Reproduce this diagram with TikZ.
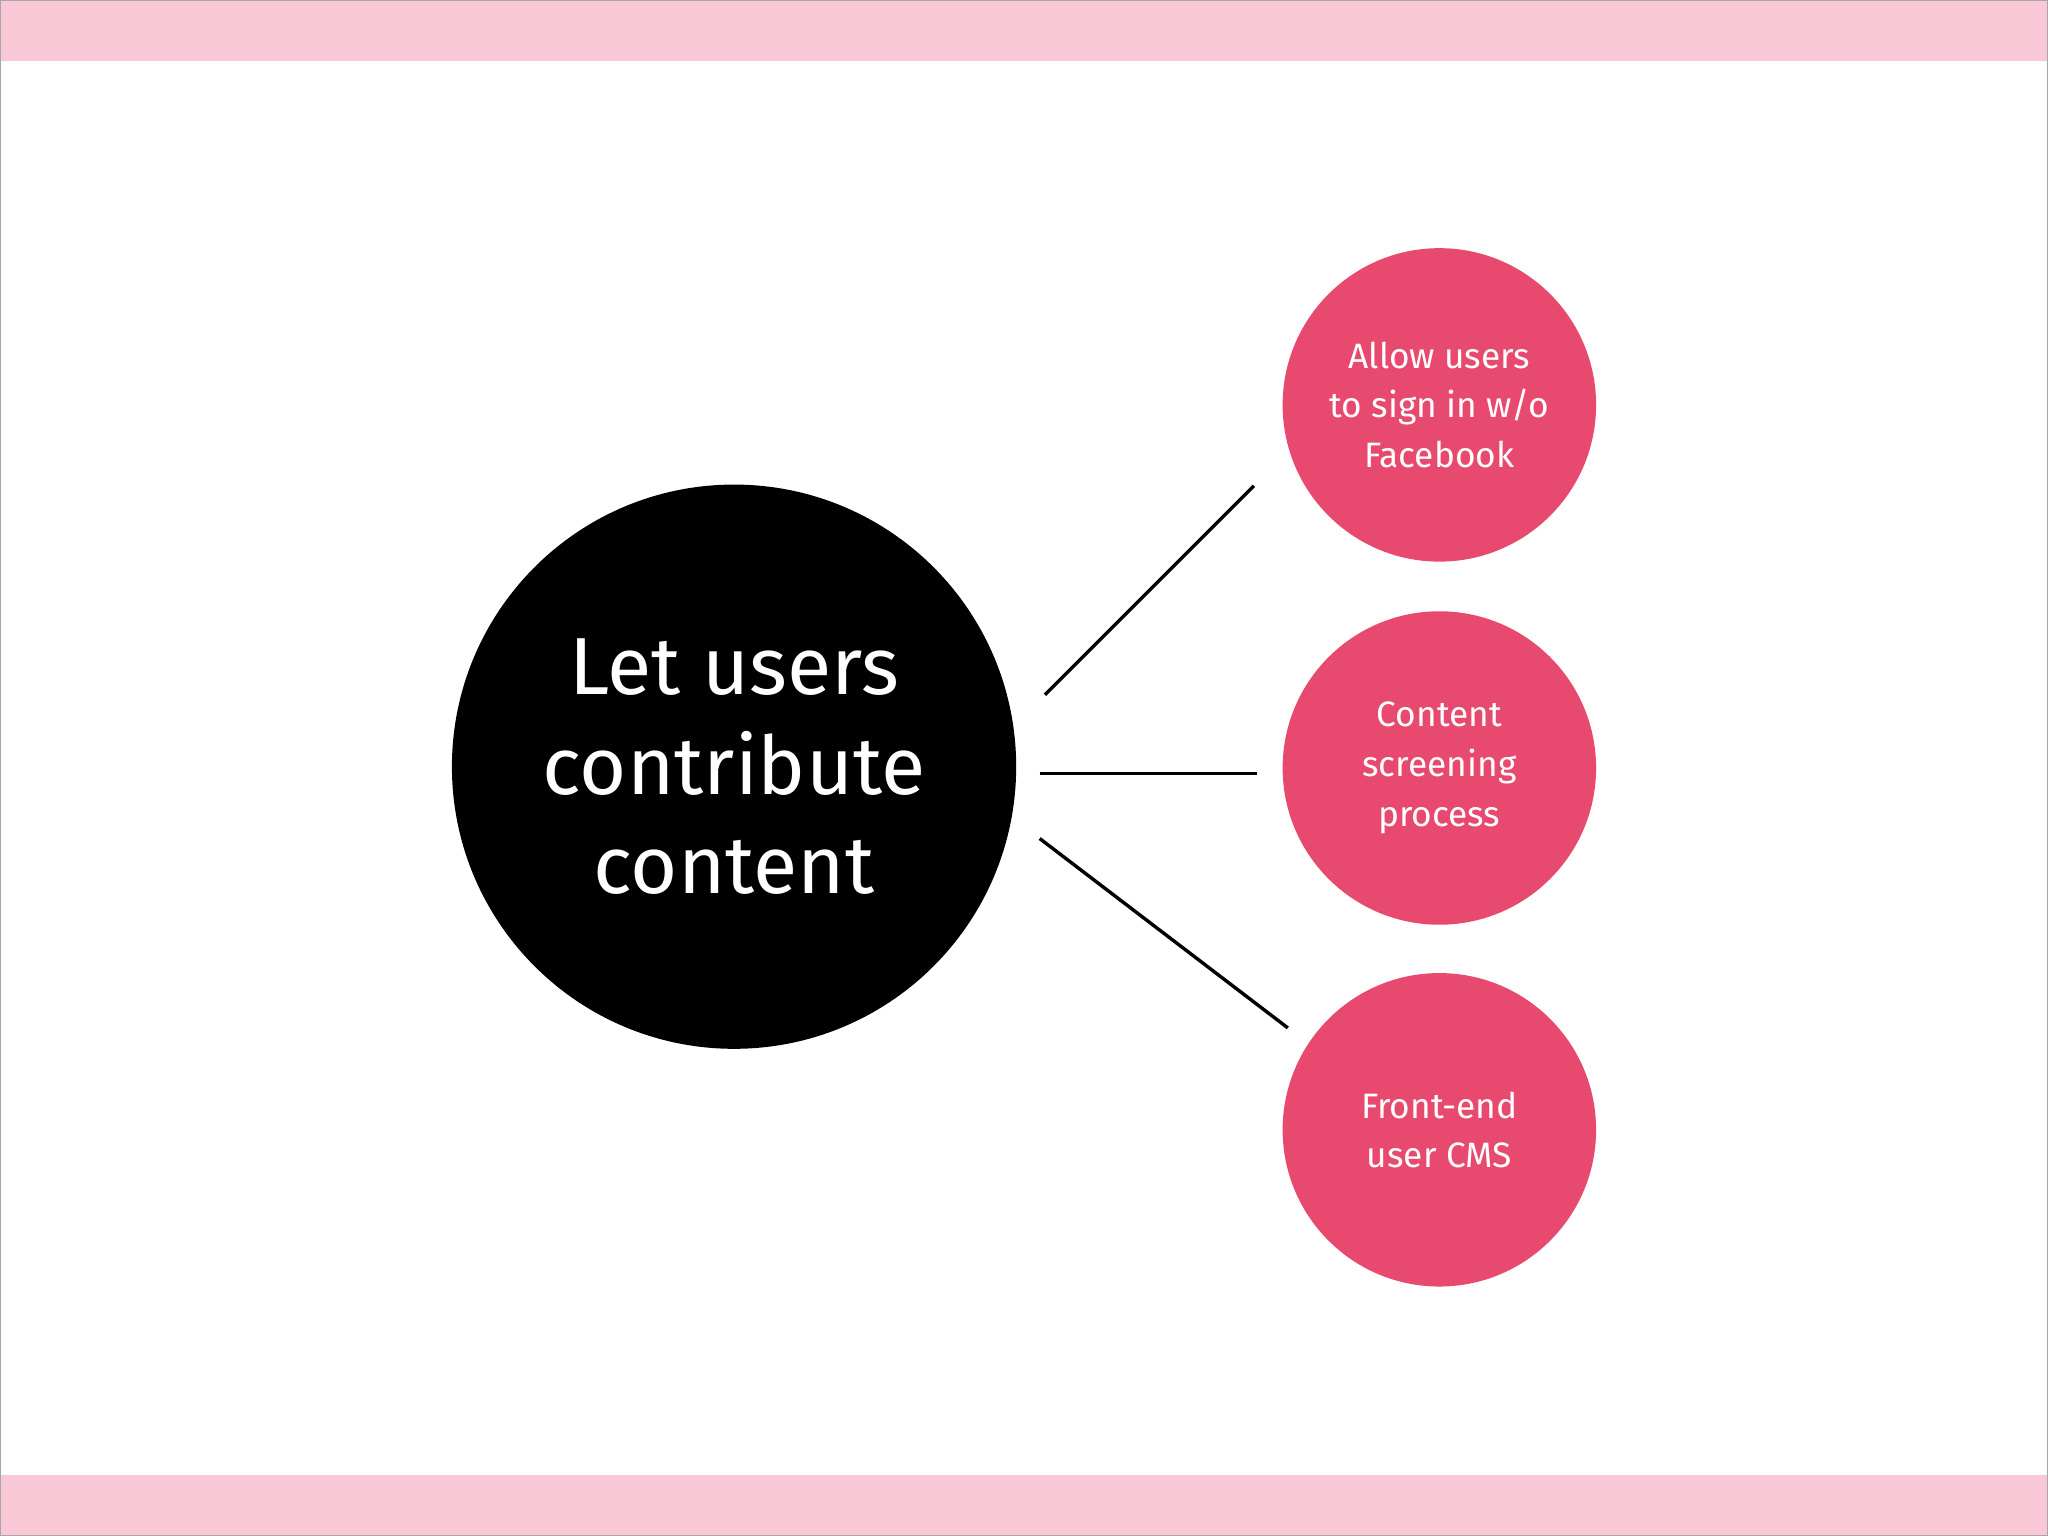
\documentclass[tikz,border=0pt]{standalone}
\usepackage{fontspec}
\setmainfont{Fira Sans}
\definecolor{band}{HTML}{F8C8D6}
\definecolor{rose}{HTML}{E8496E}
\begin{document}
\begin{tikzpicture}[x=0.5pt,y=-0.5pt,
  big/.style={circle,fill=black,minimum size=432*0.5pt,inner sep=0,text=white,align=center,font=\fontsize{31}{38}\selectfont},
  small/.style={circle,fill=rose,minimum size=240*0.5pt,inner sep=0,text=white,align=center,font=\fontsize{13.5}{19}\selectfont},
  conn/.style={line width=1.3pt}]
\useasboundingbox (0,0) rectangle (1568,1176);
\fill[white] (0,0) rectangle (1568,1176);
\fill[band] (0,0) rectangle (1568,47);
\fill[band] (0,1129) rectangle (1568,1176);
\draw[gray!70,line width=0.5pt] (0,0) rectangle (1568,1176);
\node[big] (m) at (562,587) {Let users\\contribute\\content};
\node[small] (a) at (1102,310) {Allow users\\to sign in w/o\\Facebook};
\node[small] (b) at (1102,588) {Content\\screening\\process};
\node[small] (c) at (1102,865) {Front-end\\user CMS};
\coordinate (a1) at (800,532); \coordinate (a2) at (960,372);
\coordinate (b1) at (796,592); \coordinate (b2) at (962,592);
\coordinate (c1) at (796,642); \coordinate (c2) at (986,787);
\draw[conn] (a1) -- (a2);
\draw[conn] (b1) -- (b2);
\draw[conn] (c1) -- (c2);
\end{tikzpicture}
\end{document}
